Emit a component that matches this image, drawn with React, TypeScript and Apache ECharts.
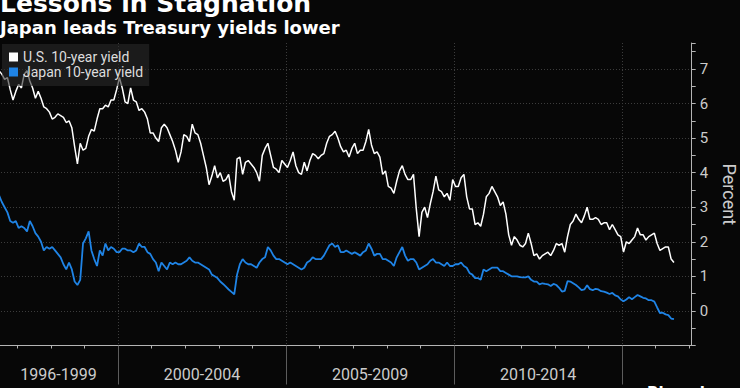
import React, { useEffect, useRef } from "react";
import * as echarts from "echarts";

// Monthly observations, starting June 1996
const startYear = 1996;
const startMonth = 6;

const seriesNames = ["U.S. 10-year yield", "Japan 10-year yield"];

const usYield = [
  // 1996 Jun-Dec
  6.95, 6.85, 6.7, 6.75, 6.4, 6.1, 6.35,
  // 1997
  6.55, 6.45, 6.85, 6.95, 6.65, 6.45, 6.15, 6.35, 6.15, 5.9, 5.85, 5.75,
  // 1998
  5.55, 5.6, 5.7, 5.65, 5.6, 5.45, 5.5, 5.3, 4.75, 4.25, 4.85, 4.65,
  // 1999
  4.7, 5.05, 5.25, 5.2, 5.55, 5.85, 5.85, 5.95, 5.9, 6.1, 6.1, 6.4,
  // 2000
  6.75, 6.45, 6.05, 6.0, 6.45, 6.1, 6.05, 5.8, 5.85, 5.75, 5.55, 5.15,
  // 2001
  5.15, 5.0, 4.9, 5.3, 5.4, 5.3, 5.1, 4.9, 4.65, 4.3, 4.6, 5.1,
  // 2002
  5.05, 4.9, 5.4, 5.15, 5.1, 4.85, 4.5, 4.15, 3.65, 3.9, 4.2, 3.85,
  // 2003
  4.0, 3.75, 3.8, 3.95, 3.45, 3.2, 4.4, 4.45, 3.95, 4.3, 4.35, 4.25,
  // 2004
  4.15, 4.0, 3.75, 4.5, 4.7, 4.85, 4.5, 4.15, 4.1, 4.0, 4.35, 4.25,
  // 2005
  4.15, 4.35, 4.6, 4.2, 4.0, 3.95, 4.3, 4.05, 4.35, 4.55, 4.5, 4.4,
  // 2006
  4.5, 4.55, 4.85, 5.05, 5.1, 5.2, 5.0, 4.75, 4.6, 4.65, 4.45, 4.7,
  // 2007
  4.85, 4.55, 4.65, 4.65, 4.9, 5.25, 4.8, 4.55, 4.6, 4.45, 3.95, 4.05,
  // 2008
  3.6, 3.55, 3.4, 3.75, 4.05, 4.2, 3.95, 3.8, 3.8, 3.95, 2.95, 2.15,
  // 2009
  2.85, 3.0, 2.7, 3.1, 3.45, 3.9, 3.5, 3.45, 3.3, 3.4, 3.2, 3.8,
  // 2010
  3.6, 3.6, 3.85, 3.95, 3.3, 2.95, 2.95, 2.5, 2.55, 2.45, 2.8, 3.3,
  // 2011
  3.4, 3.6, 3.45, 3.3, 3.05, 3.15, 2.8, 2.2, 1.9, 2.15, 2.05, 1.9,
  // 2012
  1.85, 1.95, 2.25, 1.95, 1.6, 1.65, 1.5, 1.6, 1.65, 1.7, 1.6, 1.75,
  // 2013
  1.95, 1.9, 1.95, 1.7, 2.15, 2.5, 2.6, 2.8, 2.65, 2.55, 2.75, 3.0,
  // 2014
  2.65, 2.65, 2.7, 2.65, 2.5, 2.55, 2.55, 2.35, 2.5, 2.35, 2.2, 2.15,
  // 2015
  1.7, 2.0, 1.95, 2.05, 2.15, 2.4, 2.2, 2.2, 2.05, 2.15, 2.2, 2.25,
  // 2016 Jan-Jul
  1.95, 1.75, 1.8, 1.85, 1.85, 1.5, 1.4,
];

const japanYield = [
  // 1996 Jun-Dec
  3.35, 3.15, 3.0, 2.85, 2.6, 2.55, 2.6,
  // 1997
  2.4, 2.45, 2.4, 2.3, 2.6, 2.45, 2.25, 2.15, 2.0, 1.75, 1.85, 1.8,
  // 1998
  1.85, 1.75, 1.65, 1.55, 1.35, 1.2, 1.4, 1.2, 0.85, 0.75, 0.9, 1.95,
  // 1999
  2.1, 2.3, 1.75, 1.5, 1.3, 1.75, 1.6, 1.95, 1.75, 1.85, 1.8, 1.7,
  // 2000
  1.7, 1.8, 1.8, 1.75, 1.75, 1.7, 1.75, 1.95, 1.85, 1.85, 1.7, 1.65,
  // 2001
  1.5, 1.4, 1.15, 1.4, 1.3, 1.2, 1.4, 1.35, 1.4, 1.35, 1.35, 1.4,
  // 2002
  1.45, 1.55, 1.45, 1.4, 1.4, 1.35, 1.3, 1.25, 1.2, 1.05, 1.0, 0.95,
  // 2003
  0.85, 0.78, 0.7, 0.62, 0.55, 0.48, 1.05, 1.35, 1.5, 1.4, 1.35, 1.35,
  // 2004
  1.3, 1.25, 1.4, 1.5, 1.55, 1.85, 1.75, 1.6, 1.5, 1.5, 1.45, 1.4,
  // 2005
  1.35, 1.4, 1.35, 1.3, 1.25, 1.2, 1.25, 1.4, 1.45, 1.55, 1.5, 1.5,
  // 2006
  1.5, 1.6, 1.75, 1.9, 1.95, 1.85, 1.9, 1.7, 1.7, 1.75, 1.7, 1.65,
  // 2007
  1.7, 1.65, 1.6, 1.7, 1.75, 1.95, 1.8, 1.6, 1.65, 1.65, 1.5, 1.5,
  // 2008
  1.45, 1.4, 1.3, 1.55, 1.7, 1.85, 1.6, 1.45, 1.5, 1.5, 1.4, 1.2,
  // 2009
  1.25, 1.3, 1.35, 1.45, 1.5, 1.4, 1.4, 1.35, 1.3, 1.4, 1.3, 1.3,
  // 2010
  1.35, 1.35, 1.4, 1.3, 1.25, 1.1, 1.05, 0.95, 0.95, 0.9, 1.2, 1.15,
  // 2011
  1.2, 1.25, 1.25, 1.25, 1.15, 1.15, 1.1, 1.05, 1.0, 1.0, 1.0, 0.98,
  // 2012
  0.97, 0.97, 1.0, 0.9, 0.85, 0.85, 0.77, 0.8, 0.78, 0.77, 0.72, 0.78,
  // 2013
  0.75, 0.67, 0.56, 0.58, 0.86, 0.85, 0.8, 0.75, 0.68, 0.6, 0.62, 0.74,
  // 2014
  0.63, 0.6, 0.64, 0.62, 0.57, 0.56, 0.53, 0.49, 0.52, 0.45, 0.42, 0.33,
  // 2015
  0.28, 0.33, 0.4, 0.34, 0.4, 0.46, 0.42, 0.38, 0.36, 0.31, 0.31, 0.27,
  // 2016 Jan-Jul
  0.1, -0.06, -0.05, -0.1, -0.12, -0.22, -0.24,
];

const periodLabels = ["1996-1999", "2000-2004", "2005-2009", "2010-2014"];
const periodStarts = [1996, 2000, 2005, 2010];
const periodEnds = [2000, 2005, 2010, 2015];

const X_MIN = 1995;
const X_MAX = 2017.07;
const Y_MIN = -1;
const Y_MAX = 7.75;

const FONT = "Roboto, 'DejaVu Sans', sans-serif";
const TITLE_FONT = "'DejaVu Sans', sans-serif";

const US_COLOR = "#ffffff";
const JP_COLOR = "#1f84e6";

function toPoints(values: number[]) {
  return values.map((v, i) => [startYear + (startMonth - 1 + i + 0.5) / 12, v]);
}

export default function App() {
  const ref = useRef<HTMLDivElement>(null);

  useEffect(() => {
    document.body.style.margin = "0";
    document.body.style.background = "#070707";
    if (!ref.current) return;
    const chart = echarts.init(ref.current, undefined, { renderer: "svg" });
    const usPts = toPoints(usYield);
    const jpPts = toPoints(japanYield);
    const firstX = usPts[0][0];

    chart.setOption({
      animation: false,
      backgroundColor: "#070707",
      grid: { left: -50, right: 48.3, top: 43, bottom: 42.5, outerBoundsMode: "none", containLabel: false },
      legend: {
        data: seriesNames,
        orient: "vertical",
        left: 2,
        top: 44,
        padding: [6, 6, 7, 7],
        itemWidth: 9,
        itemHeight: 9,
        itemGap: 1,
        icon: "rect",
        backgroundColor: "rgba(42,42,42,0.6)",
        textStyle: { color: "#dddddd", fontSize: 14, lineHeight: 14, width: 107, fontFamily: FONT },
        z: 10,
      },
      xAxis: {
        type: "value",
        min: X_MIN,
        max: X_MAX,
        interval: 5,
        axisLine: { show: true, onZero: false, lineStyle: { color: "#b4b4b4", width: 1 } },
        axisTick: { show: false },
        minorTick: { show: true, splitNumber: 5, length: 3, lineStyle: { color: "#b4b4b4" } },
        axisLabel: { show: false },
        splitLine: {
          show: true,
          showMinLine: false,
          showMaxLine: false,
          lineStyle: { color: "#3c3c3c", type: [1, 2], width: 1 },
        },
      },
      yAxis: {
        type: "value",
        position: "right",
        min: Y_MIN,
        max: Y_MAX,
        interval: 1,
        name: "Percent",
        nameLocation: "middle",
        nameRotate: -90,
        nameGap: 29,
        nameTextStyle: { color: "#cccccc", fontSize: 18, fontFamily: FONT },
        axisLine: { show: true, lineStyle: { color: "#b4b4b4", width: 1 } },
        axisTick: { show: true, length: 4, lineStyle: { color: "#b4b4b4" } },
        minorTick: { show: true, splitNumber: 2, length: 4, lineStyle: { color: "#b4b4b4" } },
        axisLabel: {
          color: "#cccccc",
          fontSize: 15,
          fontFamily: FONT,
          margin: 8,
          formatter: (v: number) => (v >= 0 && Number.isInteger(v) ? String(v) : ""),
        },
        splitLine: {
          show: true,
          showMinLine: false,
          showMaxLine: false,
          lineStyle: { color: "#3c3c3c", type: [1, 2], width: 1 },
        },
      },
      series: [
        {
          name: seriesNames[0],
          type: "line",
          data: usPts,
          showSymbol: false,
          symbol: "none",
          color: US_COLOR,
          lineStyle: { color: US_COLOR, width: 1.5 },
          z: 3,
        },
        {
          name: seriesNames[1],
          type: "line",
          data: jpPts,
          showSymbol: false,
          symbol: "none",
          color: JP_COLOR,
          lineStyle: { color: JP_COLOR, width: 1.8 },
          z: 3,
        },
        {
          name: "periods",
          type: "custom",
          silent: true,
          clip: false,
          z: 1,
          data: periodStarts.map((s, i) => [s, periodEnds[i]]),
          renderItem: (params: any, api: any) => {
            const s = Math.max(api.value(0), firstX);
            const e = api.value(1);
            const ps = api.coord([s, Y_MIN]);
            const pe = api.coord([e, Y_MIN]);
            const label = periodLabels[params.dataIndex];
            return {
              type: "group",
              children: [
                {
                  type: "line",
                  shape: { x1: Math.round(pe[0]) + 0.5, y1: pe[1], x2: Math.round(pe[0]) + 0.5, y2: pe[1] + 39 },
                  style: { stroke: "#5c5c5c", lineWidth: 1 },
                },
                {
                  type: "text",
                  style: {
                    text: label,
                    x: (ps[0] + pe[0]) / 2,
                    y: pe[1] + 29,
                    align: "center",
                    verticalAlign: "middle",
                    textAlign: "center",
                    textVerticalAlign: "middle",
                    fill: "#cccccc",
                    fontSize: 16,
                    fontFamily: FONT,
                  },
                },
              ],
            };
          },
        },
      ],
      graphic: [
        {
          type: "text",
          x: 0,
          y: 3,
          style: {
            text: "Lessons in Stagnation",
            fill: "#ffffff",
            font: `bold 25px ${TITLE_FONT}`,
            verticalAlign: "middle",
            textVerticalAlign: "middle",
          },
        },
        {
          type: "text",
          x: 0,
          y: 27,
          style: {
            text: "Japan leads Treasury yields lower",
            fill: "#ffffff",
            font: `bold 18px ${TITLE_FONT}`,
            verticalAlign: "middle",
            textVerticalAlign: "middle",
          },
        },
        {
          type: "text",
          x: 647,
          y: 385,
          style: {
            text: "Bloomberg",
            fill: "#ffffff",
            font: `bold 15px ${TITLE_FONT}`,
            verticalAlign: "top",
            textVerticalAlign: "top",
          },
        },
      ],
    });

    return () => chart.dispose();
  }, []);

  return <div ref={ref} style={{ width: 740, height: 388 }} />;
}
